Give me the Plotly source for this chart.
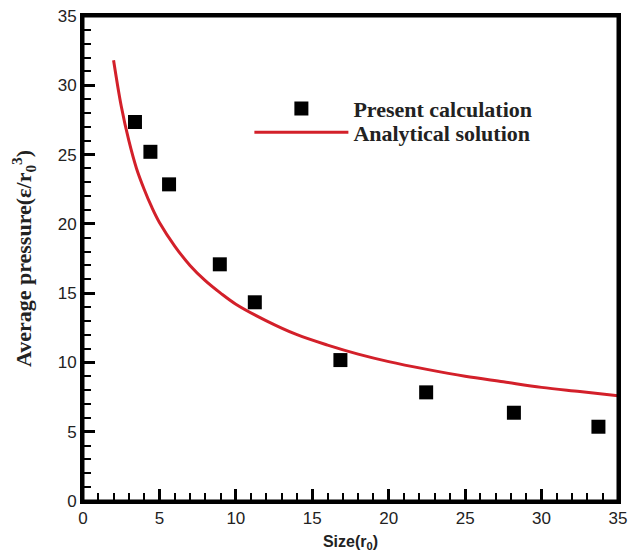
import plotly.graph_objects as go

# Present calculation
calc_size = [3.40, 4.41, 5.63, 8.95, 11.24, 16.84, 22.45, 28.19, 33.72]
calc_pressure = [27.35, 25.2, 22.85, 17.08, 14.34, 10.17, 7.84, 6.37, 5.36]

# Analytical solution
ana_size = [2, 2.5, 3, 3.5, 4, 4.5, 5, 6, 7, 8, 9, 10, 12, 14, 16, 18, 20, 22.5, 25, 27.5, 30, 32.5, 35]
ana_pressure = [31.8, 28.5, 26.0, 24.0, 22.5, 21.2, 20.1, 18.4, 17.0, 15.9, 15.0, 14.2, 13.0, 12.0,
                11.25, 10.6, 10.06, 9.5, 9.0, 8.6, 8.2, 7.9, 7.6]

x_ticks = [0, 5, 10, 15, 20, 25, 30, 35]
y_ticks = [0, 5, 10, 15, 20, 25, 30, 35]

fig = go.Figure()
fig.add_trace(go.Scatter(
    x=calc_size, y=calc_pressure, mode="markers", name="<b>Present calculation</b>",
    marker=dict(symbol="square", size=14, color="black"), legend="legend",
))
fig.add_trace(go.Scatter(
    x=ana_size, y=ana_pressure, mode="lines", name="<b>Analytical solution</b>",
    line=dict(color="#d3202a", width=3, shape="spline"), legend="legend2",
))

tickfont = dict(family="Liberation Sans, Arial, sans-serif", size=17, color="#222")
axis_common = dict(
    showline=True, linecolor="black", linewidth=3, mirror=True,
    ticks="inside", ticklen=12, tickwidth=3, tickcolor="black",
    showgrid=False, zeroline=False, tickfont=tickfont, automargin=False,
    ticklabeloverflow="allow",
    minor=dict(ticks="inside", ticklen=8, tickwidth=1.5, tickcolor="black", dtick=1, showgrid=False),
)

fig.update_xaxes(range=[0, 35], tickvals=x_ticks, **axis_common,
                 title=dict(text="<b>Size(r<sub>0</sub>)</b>",
                            font=dict(family="Liberation Sans, Arial, sans-serif", size=16, color="#222"),
                            standoff=9))
fig.update_yaxes(range=[0, 35], tickvals=y_ticks, **axis_common,
                 title=dict(text="<b>Average pressure(ε/r<sub>0</sub><sup>3</sup>)</b>",
                            font=dict(family="Liberation Serif, Times New Roman, serif", size=22, color="#222"),
                            standoff=21))

# plot frame (top and right border of the axes box)
fig.add_shape(type="rect", xref="paper", yref="paper", x0=0, x1=1, y0=0, y1=1,
              line=dict(color="black", width=3), fillcolor="rgba(0,0,0,0)", layer="above")

legend_font = dict(family="Liberation Serif, Times New Roman, serif", size=22, color="#222")
fig.update_layout(
    width=632, height=548,
    margin=dict(l=75, r=22, t=8, b=55),
    plot_bgcolor="white", paper_bgcolor="white",
    showlegend=True,
    legend=dict(
        x=0.311, y=0.809, xanchor="left", yanchor="middle",
        bgcolor="rgba(0,0,0,0)", borderwidth=0, font=legend_font, itemwidth=94,
    ),
    legend2=dict(
        x=0.311, y=0.760, xanchor="left", yanchor="middle",
        bgcolor="rgba(0,0,0,0)", borderwidth=0, font=legend_font, itemwidth=94,
    ),
)

fig.write_html("out.html")
